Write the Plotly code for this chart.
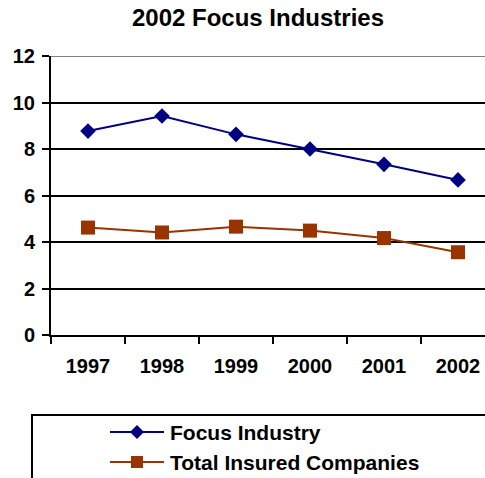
import plotly.graph_objects as go

# Chart data
years = ["1997", "1998", "1999", "2000", "2001", "2002"]
focus_industry = [8.77, 9.42, 8.63, 8.00, 7.34, 6.67]
total_insured = [4.62, 4.41, 4.66, 4.49, 4.17, 3.56]
series_names = ["Focus Industry", "Total Insured Companies"]
y_ticks = [0, 2, 4, 6, 8, 10, 12]

NAVY = "#000080"
BROWN = "#993300"
FONT = "Arial, 'Liberation Sans', sans-serif"

W, H = 485, 478
L, R, T, B = 51, 0, 56, 143
plot_w = W - L - R
plot_h = H - T - B


def px_x(px):
    return (px - L) / plot_w


def px_y(py):
    return (H - B - py) / plot_h


fig = go.Figure()
fig.add_trace(go.Scatter(
    x=years, y=focus_industry, mode="lines+markers", name=series_names[0],
    line=dict(color=NAVY, width=2),
    marker=dict(symbol="diamond", size=12, color=NAVY),
))
fig.add_trace(go.Scatter(
    x=years, y=total_insured, mode="lines+markers", name=series_names[1],
    line=dict(color=BROWN, width=2),
    marker=dict(symbol="square", size=14, color=BROWN),
))

shapes = [
    # top border of plot area
    dict(type="line", xref="paper", yref="y", x0=0, x1=1, y0=12, y1=12,
         line=dict(color="#808080", width=2), layer="above"),
    # legend frame
    dict(type="rect", xref="paper", yref="paper",
         x0=px_x(32), x1=1.2, y0=px_y(415), y1=px_y(560),
         line=dict(color="black", width=2), fillcolor="rgba(0,0,0,0)"),
]
annotations = []

legend_rows = [
    (series_names[0], NAVY, "diamond", 432),
    (series_names[1], BROWN, "square", 462),
]
for name, color, sym, py in legend_rows:
    yy = px_y(py)
    shapes.append(dict(type="line", xref="paper", yref="paper",
                       x0=px_x(110), x1=px_x(164), y0=yy, y1=yy,
                       line=dict(color=color, width=2)))
    if sym == "diamond":
        shapes.append(dict(type="path", xref="paper", yref="paper",
                           xsizemode="pixel", ysizemode="pixel",
                           xanchor=px_x(137), yanchor=yy,
                           path="M 0 7 L 7 0 L 0 -7 L -7 0 Z",
                           fillcolor=color, line=dict(color=color, width=0)))
    else:
        shapes.append(dict(type="rect", xref="paper", yref="paper",
                           xsizemode="pixel", ysizemode="pixel",
                           xanchor=px_x(137), yanchor=yy,
                           x0=-6, x1=6, y0=-6, y1=6,
                           fillcolor=color, line=dict(color=color, width=0)))
    annotations.append(dict(xref="paper", yref="paper", x=px_x(168), y=yy,
                            xanchor="left", yanchor="middle", showarrow=False,
                            text=name,
                            font=dict(family=FONT, size=21, color="black", weight="bold")))

fig.update_layout(
    width=W, height=H, autosize=False,
    margin=dict(l=L, r=R, t=T, b=B),
    paper_bgcolor="white", plot_bgcolor="white",
    showlegend=False,
    title=dict(text="2002 Focus Industries", xref="container", yref="container",
               x=258 / W, y=1 - 17.5 / H, xanchor="center", yanchor="middle",
               font=dict(family=FONT, size=24, color="black", weight="bold")),
    xaxis=dict(type="category", range=[-0.5, 5.5 - 10 / 74],
               showline=True, linecolor="black", linewidth=2,
               ticks="outside", tickson="boundaries", ticklen=7, tickwidth=2,
               tickcolor="black", showgrid=False, zeroline=False,
               ticklabelstandoff=12,
               tickfont=dict(family=FONT, size=20, color="black", weight="bold")),
    yaxis=dict(range=[0, 12], tickvals=y_ticks, showline=True,
               linecolor="black", linewidth=2, ticks="outside", ticklen=7,
               tickwidth=2, tickcolor="black", showgrid=True, gridcolor="black",
               gridwidth=2, zeroline=False, ticklabelstandoff=3,
               tickfont=dict(family=FONT, size=20, color="black", weight="bold")),
    shapes=shapes,
    annotations=annotations,
)

fig.write_html("out.html")
